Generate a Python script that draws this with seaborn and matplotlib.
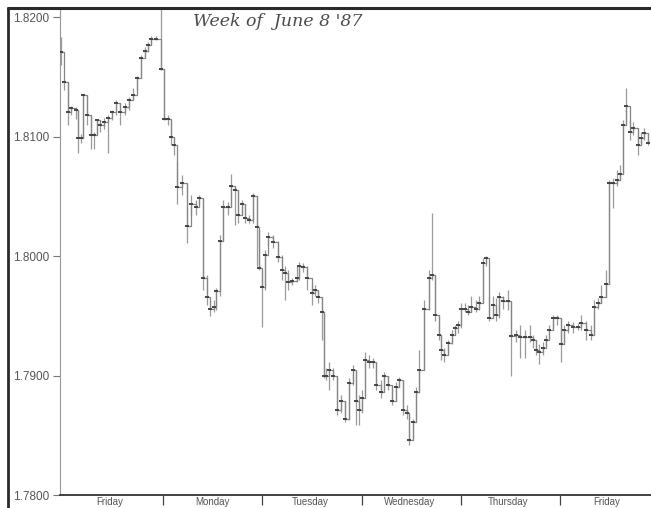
import matplotlib
matplotlib.use("Agg")
import matplotlib.pyplot as plt
from matplotlib.lines import Line2D
import pandas as pd
import seaborn as sns

# Intraday DM/$ style quotes: time in trading days from the Friday open,
# with close, high and low of each bar.
times = [-0.03, 0.00, 0.04, 0.07, 0.12, 0.14, 0.17, 0.19, 0.23, 0.27,
         0.30, 0.33, 0.37, 0.41, 0.45, 0.49, 0.53, 0.57, 0.62, 0.66,
         0.70, 0.74, 0.78, 0.82, 0.85, 0.88, 0.93, 0.98, 1.01, 1.05,
         1.08, 1.11, 1.14, 1.19, 1.24, 1.28, 1.33, 1.36, 1.40, 1.44,
         1.47, 1.51, 1.53, 1.57, 1.60, 1.65, 1.69, 1.73, 1.76, 1.80,
         1.83, 1.87, 1.91, 1.95, 1.97, 2.00, 2.03, 2.06, 2.11, 2.16,
         2.20, 2.23, 2.26, 2.30, 2.35, 2.37, 2.41, 2.45, 2.50, 2.53,
         2.56, 2.60, 2.62, 2.64, 2.67, 2.71, 2.75, 2.79, 2.83, 2.87,
         2.91, 2.94, 2.97, 3.00, 3.04, 3.08, 3.12, 3.15, 3.20, 3.23,
         3.27, 3.31, 3.35, 3.38, 3.42, 3.46, 3.48, 3.52, 3.55, 3.58,
         3.63, 3.68, 3.71, 3.74, 3.78, 3.80, 3.83, 3.87, 3.91, 3.94,
         3.97, 4.00, 4.04, 4.07, 4.10, 4.15, 4.18, 4.22, 4.25, 4.28,
         4.32, 4.36, 4.39, 4.43, 4.48, 4.51, 4.56, 4.60, 4.65, 4.70,
         4.73, 4.76, 4.79, 4.83, 4.86, 4.89, 4.93, 4.97, 5.01, 5.04,
         5.08, 5.13, 5.18, 5.21, 5.26, 5.31, 5.34, 5.38, 5.41, 5.46,
         5.49, 5.53, 5.57, 5.60, 5.63, 5.67, 5.71, 5.74, 5.79, 5.82,
         5.85, 5.89]

closes = [1.8171, 1.8146, 1.8121, 1.8124, 1.8122, 1.8099, 1.8099, 1.8135, 1.8118, 1.8101,
          1.8101, 1.8114, 1.8110, 1.8112, 1.8116, 1.8121, 1.8128, 1.8121, 1.8125, 1.8131,
          1.8135, 1.8149, 1.8166, 1.8172, 1.8177, 1.8182, 1.8182, 1.8157, 1.8115, 1.8115,
          1.8100, 1.8093, 1.8058, 1.8061, 1.8025, 1.8044, 1.8041, 1.8049, 1.7982, 1.7966,
          1.7956, 1.7957, 1.7971, 1.8013, 1.8041, 1.8041, 1.8059, 1.8055, 1.8034, 1.8044,
          1.8032, 1.8030, 1.8050, 1.8024, 1.7990, 1.7974, 1.8001, 1.8016, 1.8012, 1.7999,
          1.7988, 1.7986, 1.7978, 1.7979, 1.7982, 1.7992, 1.7991, 1.7982, 1.7969, 1.7972,
          1.7966, 1.7953, 1.7900, 1.7900, 1.7905, 1.7900, 1.7871, 1.7879, 1.7864, 1.7894,
          1.7905, 1.7879, 1.7871, 1.7881, 1.7913, 1.7911, 1.7911, 1.7892, 1.7886, 1.7900,
          1.7892, 1.7879, 1.7890, 1.7896, 1.7871, 1.7869, 1.7846, 1.7861, 1.7886, 1.7905,
          1.7956, 1.7982, 1.7984, 1.7951, 1.7934, 1.7921, 1.7917, 1.7927, 1.7934, 1.7940,
          1.7942, 1.7956, 1.7956, 1.7953, 1.7957, 1.7956, 1.7961, 1.7994, 1.7998, 1.7948,
          1.7959, 1.7951, 1.7966, 1.7962, 1.7962, 1.7933, 1.7934, 1.7932, 1.7932, 1.7932,
          1.7930, 1.7921, 1.7920, 1.7923, 1.7930, 1.7938, 1.7948, 1.7948, 1.7926, 1.7938,
          1.7942, 1.7941, 1.7941, 1.7944, 1.7938, 1.7934, 1.7957, 1.7961, 1.7966, 1.7977,
          1.8061, 1.8061, 1.8064, 1.8069, 1.8110, 1.8126, 1.8104, 1.8107, 1.8093, 1.8099,
          1.8103, 1.8095]

highs = [1.8183, 1.8147, 1.8146, 1.8126, 1.8125, 1.8122, 1.8102, 1.8136, 1.8135, 1.8118,
         1.8104, 1.8115, 1.8114, 1.8116, 1.8118, 1.8122, 1.8131, 1.8128, 1.8128, 1.8133,
         1.8141, 1.8151, 1.8168, 1.8175, 1.8179, 1.8184, 1.8184, 1.8208, 1.8157, 1.8118,
         1.8115, 1.8100, 1.8080, 1.8068, 1.8061, 1.8051, 1.8047, 1.8051, 1.8049, 1.7984,
         1.7963, 1.7963, 1.7973, 1.8018, 1.8047, 1.8045, 1.8069, 1.8059, 1.8055, 1.8047,
         1.8043, 1.8034, 1.8053, 1.8050, 1.8023, 1.7988, 1.8005, 1.8020, 1.8018, 1.8013,
         1.8001, 1.7992, 1.7988, 1.7982, 1.7992, 1.7995, 1.7994, 1.7992, 1.7976, 1.7976,
         1.7972, 1.7966, 1.7953, 1.7906, 1.7911, 1.7906, 1.7900, 1.7884, 1.7879, 1.7898,
         1.7909, 1.7905, 1.7884, 1.7888, 1.7920, 1.7917, 1.7915, 1.7911, 1.7896, 1.7903,
         1.7900, 1.7892, 1.7895, 1.7899, 1.7896, 1.7875, 1.7869, 1.7864, 1.7890, 1.7921,
         1.7963, 1.7988, 1.8036, 1.7984, 1.7951, 1.7934, 1.7923, 1.7930, 1.7938, 1.7942,
         1.7946, 1.7961, 1.7961, 1.7959, 1.7967, 1.7963, 1.7967, 1.7998, 1.8000, 1.7967,
         1.7967, 1.7965, 1.7970, 1.7967, 1.7972, 1.7962, 1.7938, 1.7942, 1.7938, 1.7942,
         1.7934, 1.7930, 1.7926, 1.7928, 1.7934, 1.7942, 1.7951, 1.7951, 1.7948, 1.7942,
         1.7946, 1.7945, 1.7944, 1.7951, 1.7946, 1.7942, 1.7963, 1.7965, 1.7976, 1.7988,
         1.8064, 1.8065, 1.8072, 1.8076, 1.8114, 1.8141, 1.8114, 1.8112, 1.8107, 1.8104,
         1.8107, 1.8103]

lows = [1.8160, 1.8139, 1.8110, 1.8118, 1.8115, 1.8086, 1.8095, 1.8099, 1.8110, 1.8090,
        1.8090, 1.8101, 1.8104, 1.8106, 1.8086, 1.8114, 1.8118, 1.8110, 1.8118, 1.8122,
        1.8131, 1.8139, 1.8149, 1.8166, 1.8171, 1.8177, 1.8181, 1.8156, 1.8114, 1.8110,
        1.8093, 1.8085, 1.8044, 1.8051, 1.8011, 1.8034, 1.8034, 1.8043, 1.7972, 1.7959,
        1.7950, 1.7953, 1.7955, 1.7967, 1.8013, 1.8034, 1.8041, 1.8026, 1.8028, 1.8034,
        1.8028, 1.8028, 1.8028, 1.7992, 1.7988, 1.7941, 1.7972, 1.8009, 1.8007, 1.7995,
        1.7980, 1.7963, 1.7972, 1.7976, 1.7978, 1.7980, 1.7987, 1.7972, 1.7959, 1.7967,
        1.7961, 1.7930, 1.7898, 1.7896, 1.7888, 1.7896, 1.7867, 1.7869, 1.7861, 1.7863,
        1.7892, 1.7859, 1.7859, 1.7869, 1.7881, 1.7906, 1.7906, 1.7888, 1.7881, 1.7886,
        1.7888, 1.7875, 1.7879, 1.7890, 1.7867, 1.7864, 1.7842, 1.7846, 1.7861, 1.7885,
        1.7905, 1.7955, 1.7980, 1.7946, 1.7930, 1.7913, 1.7911, 1.7917, 1.7926, 1.7934,
        1.7936, 1.7940, 1.7953, 1.7951, 1.7953, 1.7953, 1.7955, 1.7961, 1.7992, 1.7946,
        1.7948, 1.7946, 1.7948, 1.7956, 1.7955, 1.7900, 1.7928, 1.7915, 1.7915, 1.7928,
        1.7923, 1.7917, 1.7910, 1.7917, 1.7923, 1.7930, 1.7938, 1.7942, 1.7911, 1.7926,
        1.7936, 1.7936, 1.7938, 1.7938, 1.7930, 1.7930, 1.7934, 1.7956, 1.7961, 1.7966,
        1.7977, 1.8040, 1.8059, 1.8064, 1.8069, 1.8110, 1.8097, 1.8101, 1.8085, 1.8093,
        1.8097, 1.8093]

day_names = ["Friday", "Monday", "Tuesday", "Wednesday", "Thursday", "Friday"]
day_breaks = [1, 2, 3, 4, 5]
day_centers = [0.46, 1.5, 2.48, 3.48, 4.48, 5.47]
price_ticks = [1.78, 1.79, 1.80, 1.81, 1.82]
title = "Week of  June 8 '87"

sns.set_theme(style="white")
plt.rcParams["font.family"] = ["Liberation Sans", "DejaVu Sans"]

W, H = 651, 508
fig = plt.figure(figsize=(W / 100, H / 100), dpi=100)
fig.patch.set_facecolor("white")
ax = fig.add_axes([60 / W, 13 / H, 1 - 60 / W, 485 / H])

df = pd.DataFrame({"t": times, "close": closes, "high": highs, "low": lows})

# high-low range of each bar
ax.vlines(df["t"], df["low"], df["high"], color="#9a9a9a", lw=0.9, zorder=2)
# close-to-close step path
sns.lineplot(data=df, x="t", y="close", drawstyle="steps-post", estimator=None,
             sort=False, color="#858585", lw=0.9, ax=ax, zorder=3)
# close marks
ax.plot(df["t"], df["close"], ls="none", marker="_", ms=3.5, mew=1.4,
        color="#454545", zorder=4)

ax.set_xlim(-0.038, 5.917)
ax.set_ylim(1.78, 1.8206)
ax.set_xlabel("")
ax.set_ylabel("")

ax.set_yticks(price_ticks)
ax.set_yticklabels([f"{v:.4f}" for v in price_ticks])
ax.tick_params(axis="y", which="major", left=True, direction="out", length=5,
               width=0.8, color="#777777", labelsize=8.5, labelcolor="#555555", pad=3)

ax.set_xticks(day_breaks)
ax.set_xticklabels([""] * len(day_breaks))
ax.set_xticks(day_centers, minor=True)
ax.set_xticklabels(day_names, minor=True)
ax.tick_params(axis="x", which="major", bottom=True, direction="out", length=7,
               width=0.9, color="#444444")
ax.tick_params(axis="x", which="minor", bottom=True, length=0, labelsize=7,
               labelcolor="#555555", pad=1.5)

ax.grid(False)
for side in ("top", "right"):
    ax.spines[side].set_visible(False)
ax.spines["left"].set_color("#999999")
ax.spines["left"].set_linewidth(0.8)
ax.spines["bottom"].set_color("#333333")
ax.spines["bottom"].set_linewidth(1.3)

fig.text(193 / W, 1 - 22 / H, title, family=["DejaVu Serif"],
         style="italic", fontsize=12.5, color="#4a4a4a", ha="left", va="center")

# page frame lines along the top and left edges
fig.add_artist(Line2D([8 / W, 1], [1 - 8 / H, 1 - 8 / H], transform=fig.transFigure,
                      color="#2a2a2a", lw=2.2))
fig.add_artist(Line2D([8 / W, 8 / W], [0, 1 - 8 / H], transform=fig.transFigure,
                      color="#2a2a2a", lw=2.0))

fig.savefig("out.png", dpi=100)
